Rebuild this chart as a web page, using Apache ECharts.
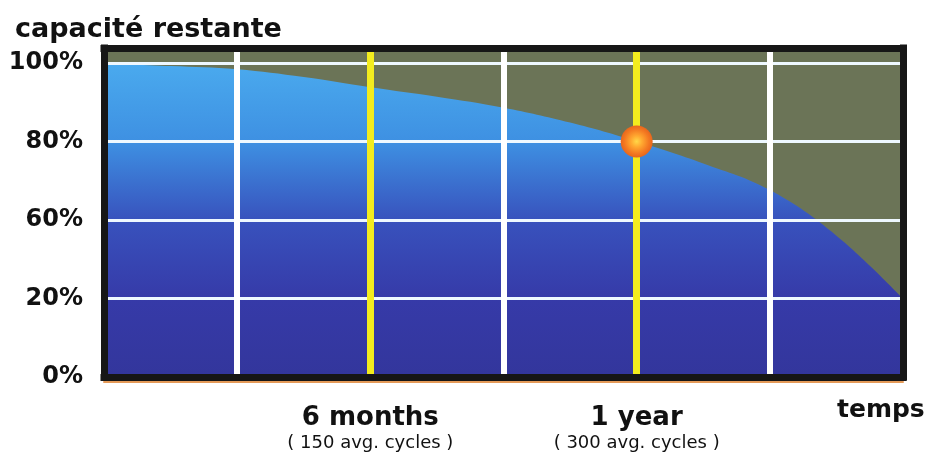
<!DOCTYPE html>
<html>
<head>
<meta charset="utf-8">
<script src="https://cdn.jsdelivr.net/npm/echarts@6/dist/echarts.min.js"></script>
<style>
html,body{margin:0;padding:0;background:#fff;}
#c{width:927px;height:457px;}
</style>
</head>
<body>
<div id="c"></div>
<script>
// Data (y in grid steps: 0..4 map to tick labels below)
const timeSteps   = [0, 0.5, 1, 1.5, 2, 2.5, 3, 3.5, 4, 4.5, 5, 5.5, 6];
const capacity    = [3.99, 3.96, 3.92, 3.82, 3.69, 3.57, 3.43, 3.24, 3.0, 2.72, 2.38, 1.80, 1.0];
const yTickLabels = ['0%', '20%', '60%', '80%', '100%'];
const xTickMain   = {2: '6 months', 4: '1 year'};
const xTickSub    = {2: '( 150 avg. cycles )', 4: '( 300 avg. cycles )'};
const yellowLines = [2, 4];
const markerPoint = [4, 3.0];
const titleText   = 'capacité restante';
const xName       = 'temps';

const chart = echarts.init(document.getElementById('c'));
const FONT = 'DejaVu Sans';
const Y_MAX = 4.19;
const FRAME = '#161616';

const areaData = timeSteps.map((t, i) => [t, capacity[i]]);

function frameAxis(extra) {
  return Object.assign({
    type: 'value', z: 10,
    axisLine: {show: true, onZero: false, lineStyle: {color: FRAME, width: 7, cap: 'square'}},
    axisTick: {show: false}, axisLabel: {show: false}, splitLine: {show: false}
  }, extra);
}

const option = {
  animation: false,
  backgroundColor: '#ffffff',
  title: [
    {text: titleText, left: 10, top: 11,
     textStyle: {fontFamily: FONT, fontSize: 27, fontWeight: 'bold', color: '#111'}},
    {text: xName, left: 832, top: 393,
     textStyle: {fontFamily: FONT, fontSize: 25, fontWeight: 'bold', color: '#111'}}
  ],
  grid: {left: 104, right: 24, top: 48, bottom: 80, show: true,
         backgroundColor: '#6b7457', borderWidth: 0},
  xAxis: [
    {type: 'value', min: 0, max: 6, interval: 1, position: 'bottom', z: 2,
     axisLine: {show: false},
     axisTick: {show: false},
     splitLine: {show: true, lineStyle: {color: '#ffffff', width: 6}},
     axisLabel: {
       margin: 27,
       formatter: v => xTickMain[v] ? '{a|' + xTickMain[v] + '}\n{b|' + xTickSub[v] + '}' : '',
       rich: {
         a: {fontFamily: FONT, fontSize: 26, fontWeight: 'bold', color: '#111', lineHeight: 28},
         b: {fontFamily: FONT, fontSize: 18, color: '#111', lineHeight: 22}
       }
     }},
    frameAxis({min: 0, max: 6, position: 'top'}),
    frameAxis({min: 0, max: 6, position: 'bottom'}),
    {type: 'value', min: 0, max: 6, position: 'bottom', offset: 5, z: 2,
     axisLine: {show: true, onZero: false, lineStyle: {color: '#e49a58', width: 2}},
     axisTick: {show: false}, axisLabel: {show: false}, splitLine: {show: false}}
  ],
  yAxis: [
    {type: 'value', min: 0, max: Y_MAX, interval: 1, position: 'left', z: 2,
     axisLine: {show: false},
     axisTick: {show: false},
     splitLine: {show: true, lineStyle: {color: '#eef8ff', width: 3}},
     axisLabel: {
       margin: 21,
       showMaxLabel: false,
       fontFamily: FONT, fontSize: 24, fontWeight: 'bold', color: '#111',
       formatter: v => Number.isInteger(v) && yTickLabels[v] !== undefined ? yTickLabels[v] : ''
     }},
    frameAxis({min: 0, max: Y_MAX, position: 'left'}),
    frameAxis({min: 0, max: Y_MAX, position: 'right'})
  ],
  series: [
    {type: 'line', xAxisIndex: 0, yAxisIndex: 0, data: areaData, smooth: 0.4, z: 1,
     showSymbol: false, lineStyle: {width: 0},
     areaStyle: {opacity: 1, color: new echarts.graphic.LinearGradient(0, 0, 0, 1, [
       {offset: 0, color: '#4aaaee'},
       {offset: 0.25, color: '#3e90e2'},
       {offset: 0.5, color: '#3852bd'},
       {offset: 0.75, color: '#363aa8'},
       {offset: 1, color: '#33369c'}
     ])},
     markLine: {z: 3, silent: true, symbol: 'none', label: {show: false}, animation: false,
       lineStyle: {color: '#f3ec1e', width: 7, type: 'solid'},
       data: yellowLines.map(x => ({xAxis: x}))}},
    {type: 'scatter', xAxisIndex: 0, yAxisIndex: 0, data: [markerPoint], z: 20,
     symbolSize: 32, silent: true,
     itemStyle: {opacity: 1, color: new echarts.graphic.RadialGradient(0.5, 0.5, 0.5, [
       {offset: 0, color: '#ffd848'},
       {offset: 0.35, color: '#ffa830'},
       {offset: 0.75, color: '#f47a22'},
       {offset: 1, color: '#e8661c'}
     ])}}
  ]
};
chart.setOption(option);
</script>
</body>
</html>
